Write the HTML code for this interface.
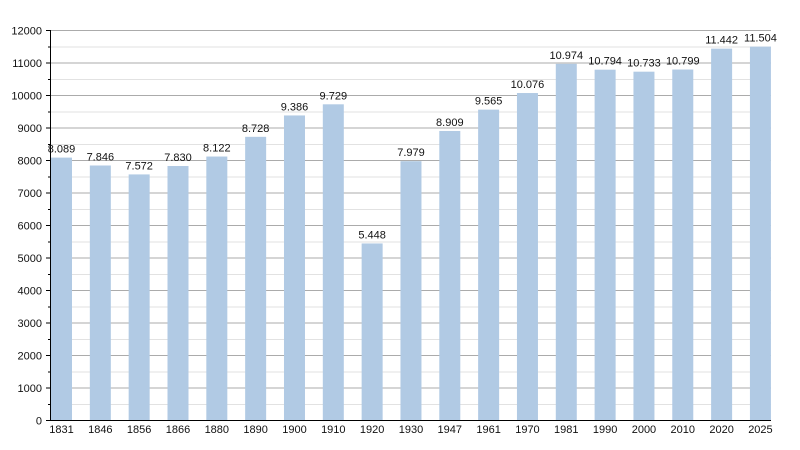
<!DOCTYPE html>
<html><head><meta charset="utf-8"><style>
html,body{margin:0;padding:0;background:#fff;}
svg{display:block;}
text{font-family:"Liberation Sans",Arial,sans-serif;font-size:11px;fill:#111;}
</style></head><body>
<svg width="800" height="450" viewBox="0 0 800 450" xmlns="http://www.w3.org/2000/svg">
<rect width="800" height="450" fill="#fff"/>
<g stroke="#e2e2e2" stroke-width="1" shape-rendering="crispEdges">
<line x1="51" x2="771" y1="404.25" y2="404.25"/><line x1="51" x2="771" y1="371.75" y2="371.75"/>
<line x1="51" x2="771" y1="339.25" y2="339.25"/><line x1="51" x2="771" y1="306.75" y2="306.75"/>
<line x1="51" x2="771" y1="274.25" y2="274.25"/><line x1="51" x2="771" y1="241.75" y2="241.75"/>
<line x1="51" x2="771" y1="209.25" y2="209.25"/><line x1="51" x2="771" y1="176.75" y2="176.75"/>
<line x1="51" x2="771" y1="144.25" y2="144.25"/><line x1="51" x2="771" y1="111.75" y2="111.75"/>
<line x1="51" x2="771" y1="79.25" y2="79.25"/><line x1="51" x2="771" y1="46.75" y2="46.75"/>
</g>
<g stroke="#ababab" stroke-width="1" shape-rendering="crispEdges">
<line x1="51" x2="771" y1="388" y2="388"/><line x1="51" x2="771" y1="355.5" y2="355.5"/>
<line x1="51" x2="771" y1="323" y2="323"/><line x1="51" x2="771" y1="290.5" y2="290.5"/>
<line x1="51" x2="771" y1="258" y2="258"/><line x1="51" x2="771" y1="225.5" y2="225.5"/>
<line x1="51" x2="771" y1="193" y2="193"/><line x1="51" x2="771" y1="160.5" y2="160.5"/>
<line x1="51" x2="771" y1="128" y2="128"/><line x1="51" x2="771" y1="95.5" y2="95.5"/>
<line x1="51" x2="771" y1="63" y2="63"/><line x1="51" x2="771" y1="30.5" y2="30.5"/>
</g>
<g fill="#b1cae4">
<rect x="51" y="157.61" width="21" height="262.89"/>
<rect x="89.83" y="165.5" width="21" height="255"/>
<rect x="128.66" y="174.41" width="21" height="246.09"/>
<rect x="167.49" y="166.02" width="21" height="254.48"/>
<rect x="206.32" y="156.53" width="21" height="263.97"/>
<rect x="245.15" y="136.84" width="21" height="283.66"/>
<rect x="283.98" y="115.45" width="21" height="305.05"/>
<rect x="322.81" y="104.31" width="21" height="316.19"/>
<rect x="361.64" y="243.44" width="21" height="177.06"/>
<rect x="400.47" y="161.18" width="21" height="259.32"/>
<rect x="439.3" y="130.96" width="21" height="289.54"/>
<rect x="478.13" y="109.64" width="21" height="310.86"/>
<rect x="516.96" y="93.03" width="21" height="327.47"/>
<rect x="555.79" y="63.84" width="21" height="356.66"/>
<rect x="594.62" y="69.69" width="21" height="350.81"/>
<rect x="633.45" y="71.68" width="21" height="348.82"/>
<rect x="672.28" y="69.53" width="21" height="350.97"/>
<rect x="711.11" y="48.63" width="21" height="371.87"/>
<rect x="749.94" y="46.62" width="21" height="373.88"/>
</g>
<g stroke="#000" stroke-width="1" shape-rendering="crispEdges">
<line x1="50.5" x2="50.5" y1="30" y2="421"/>
<line x1="50" x2="771" y1="420.5" y2="420.5"/>
<line x1="46" x2="50" y1="388" y2="388"/><line x1="46" x2="50" y1="355.5" y2="355.5"/>
<line x1="46" x2="50" y1="323" y2="323"/><line x1="46" x2="50" y1="290.5" y2="290.5"/>
<line x1="46" x2="50" y1="258" y2="258"/><line x1="46" x2="50" y1="225.5" y2="225.5"/>
<line x1="46" x2="50" y1="193" y2="193"/><line x1="46" x2="50" y1="160.5" y2="160.5"/>
<line x1="46" x2="50" y1="128" y2="128"/><line x1="46" x2="50" y1="95.5" y2="95.5"/>
<line x1="46" x2="50" y1="63" y2="63"/><line x1="46" x2="50" y1="30.5" y2="30.5"/>
<line x1="46" x2="50" y1="420.5" y2="420.5"/>
<line x1="48" x2="50" y1="404.25" y2="404.25"/><line x1="48" x2="50" y1="371.75" y2="371.75"/>
<line x1="48" x2="50" y1="339.25" y2="339.25"/><line x1="48" x2="50" y1="306.75" y2="306.75"/>
<line x1="48" x2="50" y1="274.25" y2="274.25"/><line x1="48" x2="50" y1="241.75" y2="241.75"/>
<line x1="48" x2="50" y1="209.25" y2="209.25"/><line x1="48" x2="50" y1="176.75" y2="176.75"/>
<line x1="48" x2="50" y1="144.25" y2="144.25"/><line x1="48" x2="50" y1="111.75" y2="111.75"/>
<line x1="48" x2="50" y1="79.25" y2="79.25"/><line x1="48" x2="50" y1="46.75" y2="46.75"/>
</g>
<g text-anchor="end">
<text x="42" y="424.5">0</text>
<text x="42" y="392">1000</text>
<text x="42" y="359.5">2000</text>
<text x="42" y="327">3000</text>
<text x="42" y="294.5">4000</text>
<text x="42" y="262">5000</text>
<text x="42" y="229.5">6000</text>
<text x="42" y="197">7000</text>
<text x="42" y="164.5">8000</text>
<text x="42" y="132">9000</text>
<text x="42" y="99.5">10000</text>
<text x="42" y="67">11000</text>
<text x="42" y="34.5">12000</text>
</g>
<g text-anchor="middle">
<text x="61.5" y="433">1831</text>
<text x="100.33" y="433">1846</text>
<text x="139.16" y="433">1856</text>
<text x="177.99" y="433">1866</text>
<text x="216.82" y="433">1880</text>
<text x="255.65" y="433">1890</text>
<text x="294.48" y="433">1900</text>
<text x="333.31" y="433">1910</text>
<text x="372.14" y="433">1920</text>
<text x="410.97" y="433">1930</text>
<text x="449.8" y="433">1947</text>
<text x="488.63" y="433">1961</text>
<text x="527.46" y="433">1970</text>
<text x="566.29" y="433">1981</text>
<text x="605.12" y="433">1990</text>
<text x="643.95" y="433">2000</text>
<text x="682.78" y="433">2010</text>
<text x="721.61" y="433">2020</text>
<text x="760.44" y="433">2025</text>

<text x="61.5" y="152.6">8.089</text>
<text x="100.33" y="160.5">7.846</text>
<text x="139.16" y="169.4">7.572</text>
<text x="177.99" y="161">7.830</text>
<text x="216.82" y="151.5">8.122</text>
<text x="255.65" y="131.8">8.728</text>
<text x="294.48" y="110.4">9.386</text>
<text x="333.31" y="99.3">9.729</text>
<text x="372.14" y="238.4">5.448</text>
<text x="410.97" y="156.2">7.979</text>
<text x="449.8" y="126">8.909</text>
<text x="488.63" y="104.6">9.565</text>
<text x="527.46" y="88">10.076</text>
<text x="566.29" y="58.8">10.974</text>
<text x="605.12" y="64.7">10.794</text>
<text x="643.95" y="66.7">10.733</text>
<text x="682.78" y="64.5">10.799</text>
<text x="721.61" y="43.6">11.442</text>
<text x="760.44" y="41.6">11.504</text>
</g>
</svg>
</body></html>
